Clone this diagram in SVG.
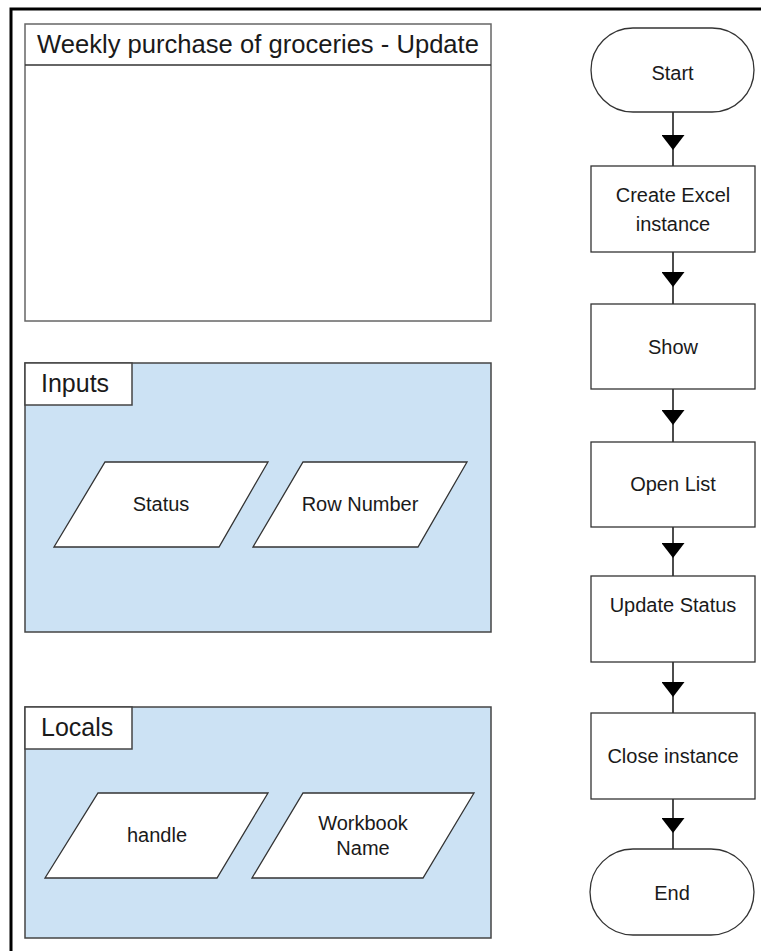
<svg xmlns="http://www.w3.org/2000/svg" width="761" height="951" viewBox="0 0 761 951">
<style>
text{font-family:"Liberation Sans",Arial,sans-serif;fill:#1a1a1a}
.big{font-size:25px}
.title{font-size:25.6px}
.mid{font-size:20px;text-anchor:middle}
.panel{fill:#ffffff;stroke:#666;stroke-width:1.5}
.blue{fill:#cce2f4;stroke:#444;stroke-width:1.5}
.tab{fill:#ffffff;stroke:#444;stroke-width:1.5}
.para{fill:#ffffff;stroke:#333;stroke-width:1.3}
.node{fill:#ffffff;stroke:#333;stroke-width:1.3}
.conn{fill:none;stroke:#111;stroke-width:1.5;marker-mid:url(#tri)}
</style>
<defs>
<marker id="tri" viewBox="0 0 15 23" refX="15" refY="11.5" markerWidth="15" markerHeight="23" markerUnits="userSpaceOnUse" orient="auto">
<path d="M0,0 L15,11.5 L0,23 Z" fill="#000"/>
</marker>
</defs>
<rect width="761" height="951" fill="#fff"/>
<g id="frame">
<path d="M11,951 L11,9 L761,9" fill="none" stroke="#000" stroke-width="3"/>
</g>
<g id="title-panel">
<rect class="panel" x="25" y="24" width="466" height="297"/>
<line x1="25" y1="65" x2="491" y2="65" stroke="#333" stroke-width="1.3"/>
<text class="title" x="37" y="53">Weekly purchase of groceries - Update</text>
</g>
<g id="inputs">
<rect class="blue" x="25" y="363" width="466" height="269"/>
<rect class="tab" x="25" y="363" width="107" height="42"/>
<text class="big" x="41" y="392">Inputs</text>
</g>
<g id="status">
<polygon class="para" points="105,462 268,462 219,547 54,547"/>
<text class="mid" x="161" y="511">Status</text>
</g>
<g id="row-number">
<polygon class="para" points="303,462 467,462 418,547 253,547"/>
<text class="mid" x="360" y="511">Row Number</text>
</g>
<g id="locals">
<rect class="blue" x="25" y="707" width="466" height="231"/>
<rect class="tab" x="25" y="707" width="107" height="42"/>
<text class="big" x="41" y="736">Locals</text>
</g>
<g id="handle">
<polygon class="para" points="98,793 268,793 217,878 45,878"/>
<text class="mid" x="157" y="842">handle</text>
</g>
<g id="workbook-name">
<polygon class="para" points="303,793 474,793 423,878 252,878"/>
<text class="mid" x="363" y="830">Workbook</text>
<text class="mid" x="363" y="855">Name</text>
</g>
<g id="connectors">
<path class="conn" d="M673,112 L673,150 L673,166"/>
<path class="conn" d="M673,252 L673,287 L673,304"/>
<path class="conn" d="M673,389 L673,425 L673,442"/>
<path class="conn" d="M673,527 L673,558 L673,576"/>
<path class="conn" d="M673,662 L673,697 L673,713"/>
<path class="conn" d="M673,799 L673,833 L673,849"/>
</g>
<g id="start">
<rect class="node" x="591" y="28" width="163" height="84" rx="42" ry="42"/>
<text class="mid" x="672.5" y="80">Start</text>
</g>
<g id="create-excel">
<rect class="node" x="591" y="166" width="164" height="86"/>
<text class="mid" x="673" y="202">Create Excel</text>
<text class="mid" x="673" y="231">instance</text>
</g>
<g id="show">
<rect class="node" x="591" y="304" width="164" height="85"/>
<text class="mid" x="673" y="354">Show</text>
</g>
<g id="open-list">
<rect class="node" x="591" y="442" width="164" height="85"/>
<text class="mid" x="673" y="491">Open List</text>
</g>
<g id="update-status">
<rect class="node" x="591" y="576" width="164" height="86"/>
<text class="mid" x="673" y="612">Update Status</text>
</g>
<g id="close-instance">
<rect class="node" x="591" y="713" width="164" height="86"/>
<text class="mid" x="673" y="763">Close instance</text>
</g>
<g id="end">
<rect class="node" x="590" y="849" width="164" height="86" rx="43" ry="43"/>
<text class="mid" x="672" y="900">End</text>
</g>
</svg>
